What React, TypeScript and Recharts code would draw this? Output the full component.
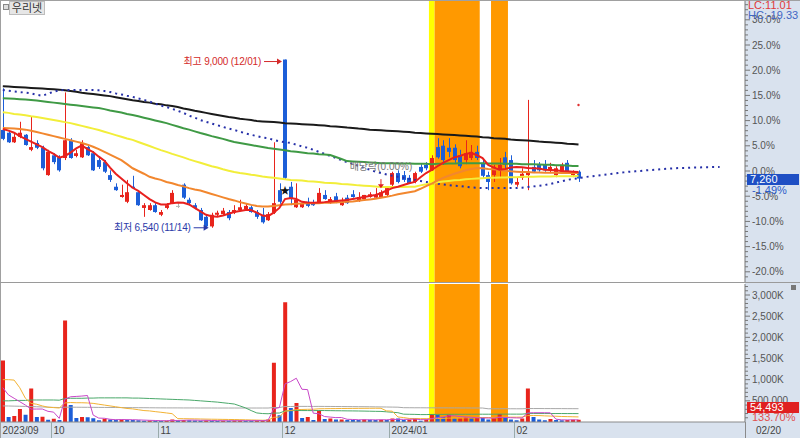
import {
  Bar,
  Cell,
  ComposedChart,
  Line,
  ReferenceArea,
  ReferenceDot,
  XAxis,
  YAxis,
} from 'recharts';

const FONT = "'Liberation Sans', 'Noto Sans CJK KR', sans-serif";
const UP = '#e8241c';
const DOWN = '#1c5ed8';
const FLAT = '#b4b4b4';
const AXIS_BG = '#d9e2ee';

// trading days shown on the chart
const tradingDays: [string, number[]][] = [
  ['2023/09', [15, 18, 19, 20, 21, 22, 25, 26, 27]],
  ['2023/10', [4, 5, 6, 10, 11, 12, 13, 16, 17, 18, 19, 20, 23, 24, 25, 26, 27, 30, 31]],
  ['2023/11', [1, 2, 3, 6, 7, 8, 9, 10, 13, 14, 15, 16, 17, 20, 21, 22, 23, 24, 27, 28, 29, 30]],
  ['2023/12', [1, 4, 5, 6, 7, 8, 11, 12, 13, 14, 15, 18, 19, 20, 21, 22, 26, 27, 28]],
  ['2024/01', [2, 3, 4, 5, 8, 9, 10, 11, 12, 15, 16, 17, 18, 19, 22, 23, 24, 25, 26, 29, 30, 31]],
  ['2024/02', [1, 2, 5, 6, 7, 8, 13, 14, 15, 16, 19, 20]],
];
const monthLabels = ['2023/09', '10', '11', '12', '2024/01', '02'];

const opens = [
  7970, 7930, 7790, 7870, 7900, 7680, 7780, 7710, 7310, 7600,
  7570, 7560, 7820, 7590, 7570, 7720, 7630, 7530, 7500, 7310,
  7140, 6990, 6920, 7140, 7060, 6830, 6800, 6870, 6730, 6830,
  6900, 6860, 7170, 6950, 6870, 6800, 6700, 6560, 6730, 6740,
  6770, 6760, 6800, 6810, 6840, 6770, 6730, 6650, 6760, 7090,
  9000, 7140, 6840, 6840, 6920, 6900, 6900, 7020, 6900, 7000,
  6870, 6980, 7030, 6930, 6960, 6990, 6980, 6990, 7020, 7170,
  7340, 7310, 7270, 7210, 7430, 7460, 7380, 7720, 7740, 7710,
  7710, 7600, 7530, 7560, 7650, 7490, 7310, 7310, 7380, 7570,
  7530, 7170, 7270, 7310, 7430, 7460, 7460, 7380, 7310, 7360,
  7490, 7310, 7360,
];
const highs = [
  8580, 7950, 7940, 8090, 7910, 8160, 7820, 7740, 7680, 7630,
  7600, 8520, 7850, 7680, 7820, 7750, 7660, 7560, 7530, 7380,
  7190, 7170, 7240, 7300, 7090, 6900, 6900, 6900, 6800, 6900,
  7090, 6900, 7190, 6980, 6900, 6830, 6730, 6760, 6790, 6830,
  6800, 6870, 6950, 6900, 6870, 6800, 6830, 6770, 7790, 7190,
  9000, 7210, 7190, 6900, 6980, 6950, 7120, 7090, 6990, 7050,
  6980, 7020, 7090, 7060, 7020, 7060, 7120, 7090, 7120, 7360,
  7380, 7370, 7310, 7360, 7470, 7500, 7600, 7850, 7820, 7850,
  7760, 7680, 7820, 7750, 7740, 7560, 7360, 7460, 7560, 7650,
  7600, 7270, 7410, 8410, 7530, 7500, 7530, 7490, 7440, 7490,
  7530, 7380, 7380,
];
const lows = [
  7820, 7780, 7780, 7850, 7740, 7660, 7690, 7380, 7300, 7470,
  7360, 7530, 7550, 7570, 7560, 7590, 7370, 7400, 7340, 7210,
  7080, 6980, 6900, 7110, 6860, 6700, 6790, 6760, 6710, 6810,
  6890, 6830, 6960, 6870, 6810, 6640, 6550, 6540, 6710, 6730,
  6650, 6740, 6790, 6800, 6760, 6670, 6600, 6640, 6740, 6890,
  7240, 6870, 6830, 6830, 6840, 6860, 6890, 6950, 6890, 6900,
  6860, 6890, 6980, 6920, 6950, 6980, 6960, 6980, 7000, 7140,
  7190, 7210, 7180, 7190, 7340, 7380, 7370, 7550, 7460, 7570,
  7490, 7410, 7470, 7530, 7530, 7270, 7090, 7210, 7270, 7410,
  7170, 7140, 7240, 7090, 7340, 7360, 7360, 7340, 7280, 7330,
  7330, 7280, 7210,
];
const closes = [
  7840, 7790, 7870, 7930, 7750, 7720, 7710, 7410, 7650, 7500,
  7380, 7820, 7560, 7630, 7780, 7600, 7380, 7430, 7360, 7240,
  7090, 7020, 7060, 7120, 6870, 6870, 6870, 6770, 6770, 6870,
  7050, 6860, 6980, 6900, 6830, 6650, 6560, 6730, 6760, 6790,
  6680, 6800, 6840, 6860, 6770, 6700, 6620, 6740, 6900, 6920,
  7270, 6960, 6950, 6900, 6860, 6870, 7050, 6960, 6960, 6920,
  6920, 6900, 6990, 6990, 7020, 7030, 7020, 7060, 7120, 7340,
  7210, 7240, 7190, 7340, 7360, 7410, 7560, 7570, 7530, 7650,
  7530, 7440, 7630, 7650, 7560, 7300, 7210, 7430, 7460, 7460,
  7190, 7210, 7330, 7360, 7360, 7380, 7380, 7430, 7410, 7460,
  7340, 7370, 7260,
];

// moving averages
const ma5 = [
  7985, 7960, 7930, 7880, 7840, 7800, 7760, 7720, 7665, 7620,
  7565, 7590, 7640, 7700, 7745, 7690, 7648, 7580, 7520, 7420,
  7330, 7260, 7190, 7125, 7080, 7020, 6960, 6910, 6880, 6880,
  6900, 6910, 6905, 6880, 6830, 6780, 6730, 6710, 6700, 6720,
  6745, 6770, 6785, 6800, 6800, 6760, 6720, 6710, 6760, 6830,
  6960, 6975, 6960, 6920, 6910, 6905, 6910, 6915, 6925, 6930,
  6940, 6945, 6960, 6975, 6990, 7005, 7020, 7045, 7085, 7120,
  7140, 7165, 7190, 7210, 7280, 7340, 7385, 7440, 7490, 7530,
  7570, 7590, 7620, 7635, 7600, 7560, 7460, 7420, 7390, 7400,
  7420, 7430, 7425, 7415, 7410, 7405, 7390, 7385, 7380, 7370,
  7365, 7360, 7355,
];
const ma20 = [
  8000, 7995, 7990, 7985, 7975, 7960, 7940, 7920, 7900, 7880,
  7860, 7840, 7820, 7800, 7780, 7755, 7725, 7690, 7650, 7610,
  7570, 7530, 7470, 7410, 7370, 7330, 7285, 7260, 7240, 7210,
  7190, 7165, 7145, 7120, 7100, 7085, 7060, 7035, 7010, 6985,
  6960, 6940, 6915, 6895, 6875, 6860, 6850, 6850, 6860, 6870,
  6880, 6885, 6890, 6895, 6900, 6900, 6900, 6905, 6905, 6910,
  6915, 6920, 6925, 6935, 6945, 6955, 6965, 6980, 6995, 7010,
  7030, 7045, 7060, 7075, 7110, 7150, 7185, 7230, 7270, 7300,
  7330, 7355, 7380, 7400, 7415, 7410, 7400, 7395, 7385, 7375,
  7365, 7360, 7355, 7355, 7350, 7350, 7345, 7345, 7345, 7340,
  7340, 7340, 7340,
];
const ma60 = [
  8230, 8220, 8205, 8195, 8185, 8170, 8160, 8145, 8130, 8115,
  8100, 8085, 8070, 8050, 8030, 8010, 7990, 7970, 7945, 7920,
  7895, 7870, 7845, 7825, 7795, 7765, 7735, 7705, 7675, 7650,
  7620, 7595, 7570, 7540, 7515, 7490, 7465, 7440, 7420, 7395,
  7375, 7355, 7340, 7330, 7315, 7305, 7290, 7280, 7270, 7260,
  7250, 7240, 7235, 7230, 7220, 7215, 7210, 7200, 7195, 7190,
  7180, 7175, 7170, 7160, 7155, 7150, 7145, 7135, 7135, 7135,
  7135, 7135, 7140, 7140, 7160, 7175, 7195, 7205, 7215, 7225,
  7235, 7240, 7250, 7255, 7260, 7265, 7270, 7270, 7275, 7275,
  7280, 7280, 7285, 7285, 7285, 7290, 7290, 7290, 7295, 7295,
  7295, 7295, 7300,
];
const ma120 = [
  8435, 8430, 8425, 8420, 8415, 8410, 8400, 8390, 8380, 8370,
  8360, 8350, 8340, 8330, 8320, 8310, 8300, 8290, 8275, 8255,
  8240, 8225, 8205, 8190, 8170, 8150, 8130, 8110, 8090, 8070,
  8045, 8020, 7995, 7975, 7950, 7925, 7905, 7880, 7860, 7840,
  7815, 7795, 7780, 7765, 7750, 7735, 7720, 7705, 7695, 7685,
  7675, 7660, 7650, 7640, 7630, 7625, 7615, 7610, 7605, 7575,
  7545, 7515, 7510, 7505, 7500, 7495, 7490, 7485, 7485, 7485,
  7480, 7480, 7480, 7475, 7475, 7475, 7470, 7475, 7475, 7480,
  7480, 7485, 7485, 7485, 7485, 7485, 7480, 7480, 7480, 7475,
  7475, 7475, 7470, 7470, 7470, 7465, 7460, 7460, 7455, 7455,
  7450, 7445, 7445,
];
const ma240 = [
  8610, 8605, 8600, 8595, 8590, 8585, 8580, 8575, 8570, 8565,
  8560, 8550, 8540, 8530, 8515, 8505, 8495, 8485, 8475, 8465,
  8450, 8435, 8420, 8405, 8395, 8380, 8370, 8355, 8345, 8330,
  8320, 8305, 8285, 8270, 8250, 8235, 8220, 8205, 8190, 8175,
  8160, 8150, 8135, 8125, 8115, 8100, 8095, 8090, 8085, 8080,
  8070, 8065, 8060, 8055, 8050, 8045, 8040, 8035, 8025, 8020,
  8015, 8005, 8000, 7990, 7985, 7975, 7970, 7965, 7960, 7955,
  7950, 7945, 7940, 7930, 7925, 7920, 7915, 7910, 7905, 7900,
  7895, 7890, 7885, 7880, 7875, 7865, 7860, 7850, 7845, 7840,
  7830, 7825, 7820, 7815, 7810, 7800, 7795, 7790, 7785, 7780,
  7770, 7765, 7757,
];
// leading span, runs 25 sessions past the last candle
const span = [
  8554, 8545, 8535, 8525, 8515, 8505, 8485, 8470, 8500, 8530,
  8550, 8554, 8554, 8554, 8554, 8554, 8554, 8550, 8540, 8525,
  8505, 8490, 8470, 8455, 8430, 8410, 8385, 8355, 8325, 8305,
  8280, 8250, 8220, 8180, 8150, 8115, 8090, 8065, 8040, 8015,
  7990, 7970, 7945, 7920, 7900, 7880, 7860, 7850, 7825, 7805,
  7790, 7780, 7755, 7730, 7710, 7680, 7650, 7620, 7590, 7560,
  7530, 7500, 7475, 7445, 7415, 7390, 7360, 7340, 7320, 7300,
  7285, 7270, 7255, 7240, 7225, 7210, 7195, 7185, 7175, 7165,
  7155, 7150, 7140, 7130, 7125, 7120, 7120, 7120, 7120, 7120,
  7120, 7120, 7125, 7135, 7145, 7155, 7165, 7180, 7200, 7220,
  7240, 7255, 7265, 7280, 7290, 7300, 7310, 7320, 7330, 7340,
  7350, 7360, 7365, 7370, 7380, 7385, 7390, 7400, 7405, 7410,
  7415, 7415, 7420, 7420, 7425, 7425, 7428, 7428,
];

// volume in thousands of shares
const volumes = [
  1450, 120, 140, 310, 170, 790, 120, 125, 55, 75,
  50, 2400, 400, 95, 120, 115, 90, 40, 75, 60,
  55, 58, 50, 45, 40, 32, 33, 30, 25, 30,
  60, 35, 50, 40, 38, 30, 35, 32, 25, 30,
  28, 35, 36, 30, 28, 35, 40, 60, 1400, 160,
  2830, 330, 450, 95, 120, 50, 260, 70, 80, 60,
  62, 50, 48, 45, 60, 55, 50, 55, 45, 85,
  80, 50, 55, 70, 30, 60, 190, 170, 120, 170,
  85, 90, 120, 85, 110, 100, 60, 85, 190, 100,
  60, 40, 85, 790, 120, 60, 40, 70, 45, 42,
  50, 52, 54.493,
];
const vma5 = [
  810, 640, 560, 480, 400, 306, 306, 307, 252, 233,
  85, 541, 596, 604, 613, 626, 164, 92, 88, 64,
  54, 58, 56, 54, 50, 45, 40, 36, 32, 30,
  36, 36, 40, 45, 45, 40, 40, 36, 33, 31,
  30, 30, 31, 32, 32, 33, 34, 40, 313, 340,
  900, 956, 1034, 773, 765, 209, 195, 129, 116, 104,
  106, 64, 60, 53, 53, 52, 52, 53, 53, 58,
  63, 63, 63, 68, 57, 53, 81, 104, 114, 146,
  147, 128, 117, 111, 99, 95, 94, 91, 109, 107,
  101, 97, 95, 215, 219, 219, 219, 216, 67, 51,
  49, 52, 49,
];
const vma20 = [
  1000, 1000, 990, 810, 560, 440, 420, 380, 350, 340,
  330, 450, 460, 455, 455, 450, 440, 420, 400, 380,
  360, 340, 320, 310, 290, 270, 262, 245, 230, 214,
  197, 79, 78, 76, 74, 71, 68, 66, 64, 62,
  60, 58, 55, 52, 48, 46, 42, 43, 111, 117,
  257, 272, 293, 296, 300, 301, 312, 314, 316, 317,
  319, 320, 321, 322, 323, 324, 325, 324, 262, 256,
  119, 105, 84, 83, 79, 79, 77, 83, 86, 92,
  93, 95, 99, 100, 103, 106, 106, 107, 114, 116,
  114, 114, 116, 152, 152, 152, 145, 140, 136, 130,
  127, 124, 120,
];
const vma60 = [
  500, 500, 505, 510, 510, 520, 520, 520, 520, 520,
  515, 555, 560, 560, 560, 565, 565, 570, 570, 570,
  570, 570, 570, 565, 565, 560, 555, 550, 545, 540,
  535, 530, 525, 520, 510, 500, 490, 480, 470, 455,
  440, 425, 380, 333, 270, 214, 200, 195, 210, 212,
  260, 265, 272, 270, 270, 268, 272, 270, 268, 266,
  265, 263, 262, 260, 258, 255, 252, 250, 240, 230,
  220, 185, 182, 180, 175, 175, 178, 180, 180, 182,
  182, 182, 183, 183, 184, 184, 184, 184, 186, 186,
  186, 186, 186, 199, 200, 200, 200, 200, 200, 200,
  199, 199, 198,
];
const vma120 = [
  380, 378, 375, 372, 368, 365, 360, 355, 350, 345,
  342, 350, 350, 349, 348, 347, 346, 345, 344, 343,
  342, 341, 340, 339, 338, 337, 336, 335, 334, 333,
  333, 333, 332, 332, 332, 331, 331, 331, 330, 330,
  330, 330, 330, 330, 330, 330, 330, 330, 341, 342,
  365, 366, 369, 369, 369, 368, 369, 368, 367, 366,
  365, 364, 363, 362, 361, 360, 358, 356, 354, 352,
  350, 338, 337, 336, 336, 335, 335, 334, 334, 333,
  333, 332, 332, 331, 331, 330, 312, 312, 313, 313,
  313, 312, 312, 318, 318, 318, 317, 317, 316, 316,
  315, 315, 314,
];

const pad = (n: number) => String(n).padStart(2, '0');
const dates = tradingDays.flatMap(([ym, days]) => days.map((d) => `${ym}/${pad(d)}`));
const monthStarts = tradingDays.map(([ym, days]) => `${ym}/${pad(days[0])}`);

const SLOTS = 132;
const n = dates.length;
const last = n - 1;
const prevClose = closes[last - 1];

const rows = Array.from({ length: SLOTS }, (_, i) => ({
  d: i < n ? dates[i] : `+${i - last}`,
  o: opens[i],
  h: highs[i],
  l: lows[i],
  c: closes[i],
  range: i < n ? [lows[i], highs[i]] : undefined,
  ma5: ma5[i],
  ma20: ma20[i],
  ma60: ma60[i],
  ma120: ma120[i],
  ma240: ma240[i],
  span: span[i],
  vol: volumes[i],
  vma5: vma5[i],
  vma20: vma20[i],
  vma60: vma60[i],
  vma120: vma120[i],
}));

const volColor = (i: number) => (i === 0 || volumes[i] >= volumes[i - 1] ? UP : DOWN);

// percent scale on the price panel (0% = previous close)
const PCT_TOP = 33.93;
const PCT_BOT = -22.22;
const priceDomain = [prevClose * (1 + PCT_BOT / 100), prevClose * (1 + PCT_TOP / 100)];
const pctTicks = Array.from({ length: 55 }, (_, k) => prevClose * (1 + (k - 21) / 100));
const volTicks = Array.from({ length: 32 }, (_, k) => (k + 1) * 100);

const hiIdx = highs.indexOf(Math.max(...highs));
const loIdx = lows.indexOf(Math.min(...lows));
const exDivIdx = dates.indexOf('2023/12/27');

// volume chart geometry (local to its svg)
const VOL_H = 155;
const AXIS_H = 16;

function PctTick(props: any) {
  const { y, payload } = props;
  const pct = Math.round((payload.value / prevClose - 1) * 100);
  const major = pct % 5 === 0;
  return (
    <g>
      <line x1={745} x2={major ? 750 : 748} y1={y} y2={y} stroke="#777" />
      {major && (
        <text x={752} y={y + 3.5} fontSize={10} fill="#555" fontFamily={FONT}>
          {pct.toFixed(1)}%
        </text>
      )}
    </g>
  );
}

function VolTick(props: any) {
  const { y, payload } = props;
  const v = payload.value;
  const major = v % 500 === 0;
  return (
    <g>
      <line x1={745} x2={major ? 750 : 748} y1={y} y2={y} stroke="#777" />
      {major && (
        <text x={752} y={y + 3.5} fontSize={10} fill="#555" fontFamily={FONT}>
          {v === 500 ? '500,000' : `${v.toLocaleString('en-US')}K`}
        </text>
      )}
    </g>
  );
}

function MonthTick(props: any) {
  const { x, payload } = props;
  const k = monthStarts.indexOf(payload.value);
  const left = Math.round(x - 2.8) + 0.5;
  const top = VOL_H - AXIS_H;
  return (
    <g>
      <line x1={left} x2={left} y1={top} y2={VOL_H} stroke="#9aa" />
      <text x={left + 2} y={top + 12} fontSize={10} fill="#444" fontFamily={FONT}>
        {monthLabels[k]}
      </text>
    </g>
  );
}

function Candle(props: any) {
  const { x, y, width, height, payload } = props;
  if (!payload || payload.o == null) return null;
  const { o, h, l, c } = payload;
  const top = height >= 0 ? y : y + height;
  const hh = Math.abs(height);
  const k = h === l ? 0 : hh / (h - l);
  const bTop = top + (h - Math.max(o, c)) * k;
  const bBot = top + (h - Math.min(o, c)) * k;
  const color = c > o ? UP : c < o ? DOWN : FLAT;
  const cx = Math.round(x + width / 2) + 0.5;
  return (
    <g>
      <line x1={cx} x2={cx} y1={top} y2={top + hh} stroke={color} />
      <rect x={Math.round(x)} y={bTop} width={Math.round(width)} height={Math.max(1, bBot - bTop)} fill={color} />
    </g>
  );
}

function HighMark(props: any) {
  const { cx, cy } = props;
  const col = '#d42a2a';
  return (
    <g fontFamily={FONT}>
      <text x={cx - 24} y={cy + 5.5} textAnchor="end" fontSize={10} fill={col} letterSpacing={-0.2}>
        {`최고 ${highs[hiIdx].toLocaleString('en-US')} (${dates[hiIdx].slice(5)})`}
      </text>
      <line x1={cx - 21} x2={cx - 6} y1={cy + 2} y2={cy + 2} stroke={col} />
      <path d={`M${cx - 3},${cy + 2} l-5,-3 v6 z`} fill={col} />
    </g>
  );
}

function LowMark(props: any) {
  const { cx, cy } = props;
  const col = '#2b3aa8';
  return (
    <g fontFamily={FONT}>
      <text x={cx - 21} y={cy + 3.5} textAnchor="end" fontSize={10} fill={col} letterSpacing={-0.2}>
        {`최저 ${lows[loIdx].toLocaleString('en-US')} (${dates[loIdx].slice(5)})`}
      </text>
      <line x1={cx - 18} x2={cx - 6} y1={cy} y2={cy} stroke={col} />
      <path d={`M${cx - 3},${cy} l-5,-3 v6 z`} fill={col} />
    </g>
  );
}

function ExDivMark(props: any) {
  const { cx, cy } = props;
  return (
    <g fontFamily={FONT}>
      <text x={cx} y={cy - 20} textAnchor="middle" fontSize={10} fill="#777">
        배당락(0.00%)
      </text>
      <line x1={cx} x2={cx} y1={cy - 11} y2={cy - 5} stroke="#e02020" />
      <path d={`M${cx - 3},${cy - 6} h6 l-3,4 z`} fill="#e02020" />
    </g>
  );
}

function StarMark(props: any) {
  const { cx, cy } = props;
  return (
    <text x={cx} y={cy + 14} textAnchor="middle" fontSize={10} fill="#111">
      ★
    </text>
  );
}

const bands = [
  { from: 76, to: 76, fill: '#ffff00' },
  { from: 77, to: 84, fill: '#ff9900' },
  { from: 87, to: 89, fill: '#ff9900' },
];

const box = (extra: any) => ({
  position: 'absolute' as const,
  fontSize: 11,
  lineHeight: '11px',
  whiteSpace: 'nowrap' as const,
  ...extra,
});

export default function App() {
  const chg = (closes[last] / prevClose - 1) * 100;
  return (
    <div
      style={{
        position: 'relative',
        width: 800,
        height: 438,
        background: '#fff',
        fontFamily: FONT,
        overflow: 'hidden',
      }}
    >
      <style>{'body{margin:0}'}</style>
      <div style={{ position: 'absolute', left: 745, top: 0, width: 55, height: 438, background: AXIS_BG }} />
      <div style={{ position: 'absolute', left: 0, top: 422, width: 800, height: 16, background: AXIS_BG }} />

      <div style={{ position: 'absolute', left: 0, top: 0 }}>
        <ComposedChart width={800} height={283} data={rows} margin={{ top: 0, right: 0, bottom: 0, left: 0 }}>
          <XAxis dataKey="d" hide />
          <YAxis
            orientation="right"
            width={55}
            type="number"
            domain={priceDomain}
            allowDataOverflow
            ticks={pctTicks}
            interval={0}
            axisLine={{ stroke: '#777' }}
            tickLine={false}
            tick={<PctTick />}
          />
          {bands.map((b, k) => (
            <ReferenceArea
              key={k}
              x1={dates[b.from]}
              x2={dates[b.to]}
              fill={b.fill}
              fillOpacity={1}
              stroke="none"
            />
          ))}
          <Line dataKey="ma240" stroke="#1a1a1a" strokeWidth={2} dot={false} isAnimationActive={false} />
          <Line
            dataKey="span"
            stroke="#2630a8"
            strokeWidth={2}
            strokeDasharray="2 4"
            dot={false}
            isAnimationActive={false}
          />
          <Line dataKey="ma120" stroke="#3f9a45" strokeWidth={2} dot={false} isAnimationActive={false} />
          <Line dataKey="ma60" stroke="#f2ee3a" strokeWidth={2} dot={false} isAnimationActive={false} />
          <Line dataKey="ma20" stroke="#f2872e" strokeWidth={2} dot={false} isAnimationActive={false} />
          <Bar dataKey="range" barSize={4} shape={<Candle />} isAnimationActive={false} />
          <Line dataKey="ma5" stroke="#e8201e" strokeWidth={2} dot={false} isAnimationActive={false} />
          <ReferenceDot x={dates[hiIdx]} y={highs[hiIdx]} shape={<HighMark />} />
          <ReferenceDot x={dates[loIdx]} y={lows[loIdx]} shape={<LowMark />} />
          <ReferenceDot x={dates[exDivIdx]} y={highs[exDivIdx]} shape={<ExDivMark />} />
          <ReferenceDot x={dates[hiIdx]} y={lows[hiIdx]} shape={<StarMark />} />
          <ReferenceDot x={dates[last]} y={8335} r={1.2} fill="#e03030" stroke="none" />
        </ComposedChart>
      </div>

      <div style={{ position: 'absolute', left: 0, top: 283 }}>
        <ComposedChart width={800} height={VOL_H} data={rows} margin={{ top: 1, right: 0, bottom: 0, left: 0 }}>
          <XAxis
            dataKey="d"
            height={AXIS_H}
            ticks={monthStarts}
            interval={0}
            axisLine={{ stroke: '#8a8a8a' }}
            tickLine={false}
            tick={<MonthTick />}
          />
          <YAxis
            orientation="right"
            width={55}
            type="number"
            domain={[0, 3260]}
            allowDataOverflow
            ticks={volTicks}
            interval={0}
            axisLine={{ stroke: '#777' }}
            tickLine={false}
            tick={<VolTick />}
          />
          {bands.map((b, k) => (
            <ReferenceArea
              key={k}
              x1={dates[b.from]}
              x2={dates[b.to]}
              fill={b.fill}
              fillOpacity={1}
              stroke="none"
            />
          ))}
          <Bar dataKey="vol" barSize={4} isAnimationActive={false}>
            {rows.map((_, i) => (
              <Cell key={i} fill={i < n ? volColor(i) : 'none'} />
            ))}
          </Bar>
          <Line dataKey="vma120" stroke="#a8a8a8" strokeWidth={1} dot={false} isAnimationActive={false} />
          <Line dataKey="vma60" stroke="#4aa86a" strokeWidth={1} dot={false} isAnimationActive={false} />
          <Line dataKey="vma20" stroke="#f2b233" strokeWidth={1} dot={false} isAnimationActive={false} />
          <Line dataKey="vma5" stroke="#c848c8" strokeWidth={1} dot={false} isAnimationActive={false} />
        </ComposedChart>
      </div>

      {/* frame */}
      <div style={{ position: 'absolute', left: 0, top: 0, width: 800, height: 1, background: '#a0a0a0' }} />
      <div style={{ position: 'absolute', left: 0, top: 0, width: 1, height: 438, background: '#a0a0a0' }} />
      <div style={{ position: 'absolute', left: 0, top: 282, width: 800, height: 1, background: '#9a9a9a' }} />

      {/* top-left title */}
      <div style={{ position: 'absolute', left: 3, top: 4, width: 4, height: 4, border: '1px solid #888', background: '#ddd' }} />
      <div
        style={box({
          left: 9,
          top: 1,
          width: 34,
          height: 12,
          background: '#e6e6e6',
          border: '1px solid #bdbdbd',
          color: '#333',
          textAlign: 'center',
          lineHeight: '12px',
        })}
      >
        우리넷
      </div>

      {/* right side labels */}
      <div style={box({ left: 748, top: 0, color: '#e03a3a' })}>LC:11.01</div>
      <div style={box({ left: 748, top: 10, color: '#3f66c4' })}>HC:-19.33</div>
      <div style={box({ left: 747, top: 174, width: 52, height: 11, background: '#1e4fc4', color: '#fff', paddingLeft: 3, boxSizing: 'border-box' })}>
        {closes[last].toLocaleString('en-US')}
      </div>
      <div style={box({ left: 752, top: 185, color: '#2a5bc8' })}>{chg.toFixed(2)}%</div>

      <div style={{ position: 'absolute', left: 791, top: 285, width: 5, height: 5, background: '#777' }} />
      <div style={box({ left: 747, top: 402, width: 52, height: 11, background: '#e02020', color: '#fff', paddingLeft: 3, boxSizing: 'border-box' })}>
        {Math.round(volumes[last] * 1000).toLocaleString('en-US')}
      </div>
      <div style={box({ left: 752, top: 412, color: '#e05050' })}>133.70%</div>
      <div style={{ position: 'absolute', left: 745, top: 422, width: 1, height: 16, background: '#8a8a8a' }} />
      <div style={box({ left: 756, top: 425, color: '#444', fontSize: 10 })}>{dates[last].slice(5)}</div>
    </div>
  );
}
